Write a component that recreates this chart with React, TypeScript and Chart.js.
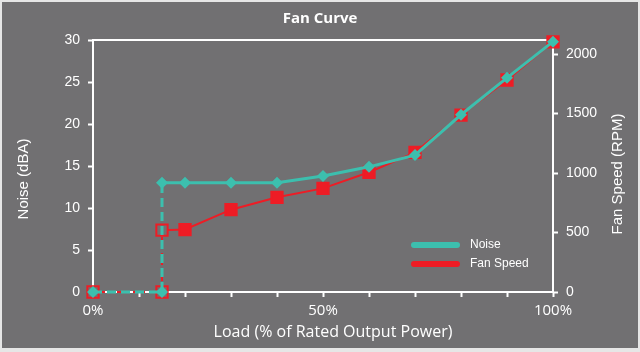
import React, { useEffect, useRef } from "react";
import { Chart, registerables } from "chart.js";

Chart.register(...registerables);

const loadPct = [0, 15, 15, 20, 30, 40, 50, 60, 70, 80, 90, 100];
const noiseDba = [0, 0, 13, 13, 13, 13, 13.8, 14.9, 16.3, 21.1, 25.5, 29.8];
const fanRpm = [0, 0, 520, 525, 692, 796, 871, 1006, 1174, 1487, 1782, 2103];
const xLabels = [0, 50, 100];
const noiseTicks = [0, 5, 10, 15, 20, 25, 30];
const rpmTicks = [0, 500, 1000, 1500, 2000];
const seriesNames = ["Noise", "Fan Speed"];
const titleText = "Fan Curve";
const xTitle = "Load (% of Rated Output Power)";
const yTitle = "Noise (dBA)";
const y2Title = "Fan Speed (RPM)";

const GRAY = "#717072";
const TEAL = "#3cbfae";
const RED = "#ee1c25";
const WHITE = "#ffffff";

export default function App() {
  const ref = useRef<HTMLCanvasElement | null>(null);

  useEffect(() => {
    if (!ref.current) return;
    const bgPlugin = {
      id: "bgFrame",
      beforeDraw(chart: any) {
        const { ctx, width, height } = chart;
        ctx.save();
        ctx.fillStyle = "#e6e6e6";
        ctx.fillRect(0, 0, width, height);
        ctx.fillStyle = GRAY;
        ctx.fillRect(2, 2, width - 4, height - 6);
        ctx.restore();
      },
      beforeDatasetsDraw(chart: any) {
        const { ctx, chartArea } = chart;
        ctx.save();
        ctx.strokeStyle = WHITE;
        ctx.lineWidth = 2;
        ctx.beginPath();
        ctx.moveTo(chartArea.left - 1, chartArea.top);
        ctx.lineTo(chartArea.right + 1, chartArea.top);
        ctx.stroke();
        ctx.restore();
      },
      afterDraw(chart: any) {
        const { ctx } = chart;
        ctx.save();
        ctx.fillStyle = WHITE;
        ctx.textBaseline = "middle";
        // title
        ctx.font = 'bold 15px "Open Sans"';
        ctx.textAlign = "center";
        ctx.fillText(titleText, 320, 19);
        // x title
        ctx.font = '16px "Open Sans"';
        ctx.fillText(xTitle, 333, 332);
        // y titles (both read bottom-to-top)
        ctx.font = '15px "Liberation Sans"';
        ctx.save();
        ctx.translate(24, 179);
        ctx.rotate(-Math.PI / 2);
        ctx.fillText(yTitle, 0, 0);
        ctx.restore();
        ctx.save();
        ctx.translate(618, 174);
        ctx.rotate(-Math.PI / 2);
        ctx.fillText(y2Title, 0, 0);
        ctx.restore();
        // legend
        const colors = [TEAL, RED];
        seriesNames.forEach((name, i) => {
          const y = 245 + i * 19;
          ctx.strokeStyle = colors[i];
          ctx.lineWidth = 6;
          ctx.lineCap = "round";
          ctx.beginPath();
          ctx.moveTo(414, y);
          ctx.lineTo(457, y);
          ctx.stroke();
          ctx.fillStyle = WHITE;
          ctx.font = '12px "Liberation Sans"';
          ctx.textAlign = "left";
          ctx.fillText(name, 470, y);
        });
        ctx.restore();
      },
    };

    const dashSeg = (dash: number[]) => (c: any) => (c.p0DataIndex < 2 ? dash : undefined);

    const chart = new Chart(ref.current, {
      type: "line",
      data: {
        datasets: [
          {
            label: seriesNames[0],
            data: loadPct.map((x, i) => ({ x, y: noiseDba[i] })),
            yAxisID: "y",
            borderColor: TEAL,
            backgroundColor: TEAL,
            borderWidth: 3,
            pointStyle: "rectRot",
            pointRadius: 6,
            pointBorderWidth: 0,
            pointBackgroundColor: TEAL,
            segment: { borderDash: dashSeg([9, 5]) },
            order: 0,
            clip: false,
            tension: 0,
          },
          {
            label: seriesNames[1],
            data: loadPct.map((x, i) => ({ x, y: fanRpm[i] })),
            yAxisID: "y2",
            borderColor: RED,
            backgroundColor: RED,
            borderWidth: 2,
            pointStyle: "rect",
            pointRadius: 8,
            pointBorderWidth: 2,
            pointBorderColor: RED,
            pointBackgroundColor: fanRpm.map((_, i) => (i < 3 ? GRAY : RED)),
            segment: { borderDash: dashSeg([4, 4]) },
            order: 1,
            clip: false,
            tension: 0,
          },
        ],
      },
      options: {
        animation: false,
        responsive: false,
        maintainAspectRatio: false,
        layout: { padding: { top: 40, left: 0, right: 0, bottom: 0 } },
        plugins: {
          legend: { display: false },
          title: { display: false },
          tooltip: { enabled: false },
        },
        scales: {
          x: {
            type: "linear",
            min: 0,
            max: 100,
            afterFit(s: any) {
              s.height = 60;
            },
            afterBuildTicks(s: any) {
              s.ticks = Array.from({ length: 11 }, (_, i) => ({ value: i * 10 }));
            },
            ticks: {
              color: WHITE,
              font: { family: '"Open Sans"', size: 15 },
              padding: 5,
              maxRotation: 0,
              autoSkip: false,
              callback: (v: any) => (xLabels.includes(Number(v)) ? `${v}%` : ""),
            },
            grid: { drawOnChartArea: false, color: WHITE, tickLength: 5, tickWidth: 2 },
            border: { color: WHITE, width: 2 },
          },
          y: {
            type: "linear",
            position: "left",
            min: 0,
            max: 30,
            afterFit(s: any) {
              s.width = 93;
            },
            afterBuildTicks(s: any) {
              s.ticks = noiseTicks.map((value) => ({ value }));
            },
            ticks: {
              color: WHITE,
              font: { family: '"Liberation Sans"', size: 14 },
              padding: 8,
              callback: (v: any) => String(v),
            },
            grid: { drawOnChartArea: false, color: WHITE, tickLength: 5, tickWidth: 2 },
            border: { color: WHITE, width: 2 },
          },
          y2: {
            type: "linear",
            position: "right",
            min: 0,
            max: 2118,
            afterFit(s: any) {
              s.width = 87;
            },
            afterBuildTicks(s: any) {
              s.ticks = rpmTicks.map((value) => ({ value }));
            },
            ticks: {
              color: WHITE,
              font: { family: '"Liberation Sans"', size: 14 },
              padding: 8,
              callback: (v: any) => String(v),
            },
            grid: { drawOnChartArea: false, color: WHITE, tickLength: 5, tickWidth: 2 },
            border: { color: WHITE, width: 2 },
          },
        },
      },
      plugins: [bgPlugin],
    } as any);
    return () => chart.destroy();
  }, []);

  return (
    <div style={{ position: "fixed", left: 0, top: 0, width: 640, height: 352 }}>
      <canvas ref={ref} width={640} height={352} style={{ display: "block", width: 640, height: 352 }} />
    </div>
  );
}
